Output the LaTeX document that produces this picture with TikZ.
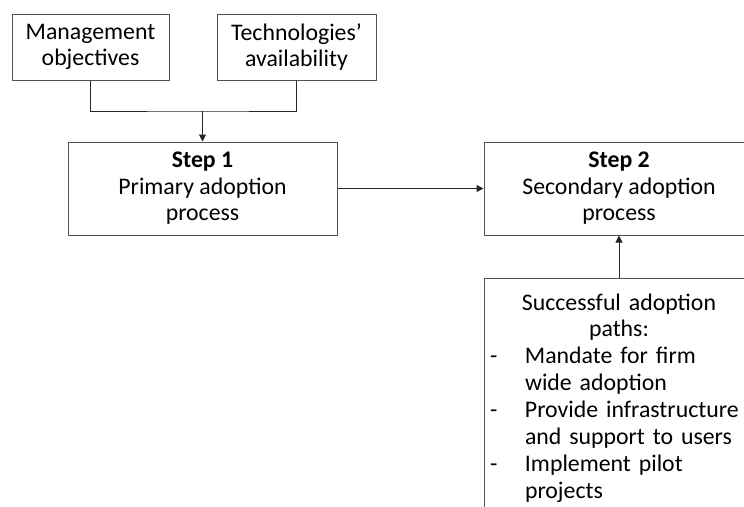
\documentclass[tikz,border=0pt]{standalone}
\usepackage{fontspec}
\setmainfont{Carlito}
\usetikzlibrary{arrows.meta}

\begin{document}
\begin{tikzpicture}[x=1pt,y=-1pt,
  every node/.style={font=\fontsize{23.8pt}{26.6pt}\selectfont},
  box/.style={draw=black!68, line width=1pt, fill=white, inner sep=0pt, align=center},
  link/.style={draw=black!85, line width=1pt},
  arr/.style={link, -{Triangle[width=7pt,length=7pt]}}
]
  % page frame; the right and lower boxes run past it
  \clip (0,0) rectangle (744,506);

  % inputs
  \node[box, minimum width=157pt, minimum height=66pt] (mgmt) at (90.5,47)
    {Management\\objectives};
  \node[box, minimum width=159pt, minimum height=66pt] (tech) at (296.5,47)
    {Technologies’\\availability};

  % the two steps
  \node[box, minimum width=269pt, minimum height=93pt] (step1) at (202.5,188.5)
    {\textbf{Step 1}\\Primary adoption\\process};
  \node[box, minimum width=270pt, minimum height=93pt] (step2) at (619,188.5)
    {\textbf{Step 2}\\Secondary adoption\\process};

  % adoption paths
  \node[box, anchor=north, text width=258pt, inner xsep=6pt, inner ysep=15pt,
        align=left, font=\fontsize{23.8pt}{26.9pt}\selectfont] (paths) at (619,278)
    {\makebox[258pt][c]{Successful adoption}\\
     \makebox[258pt][c]{paths:}\\
     \makebox[35pt][l]{-}Mandate for firm\\
     \hspace*{35pt}wide adoption\\
     \makebox[35pt][l]{-}Provide infrastructure\\
     \hspace*{35pt}and support to users\\
     \makebox[35pt][l]{-}Implement pilot\\
     \hspace*{35pt}projects};

  % connectors
  \coordinate (j) at (202.5,111);
  \draw[link] (mgmt.south) |- (j) -| (tech.south);
  \draw[arr] (j) -- (step1.north);
  \draw[arr] (step1.east) -- (step2.west);
  \draw[arr] (paths.north) -- (step2.south);
\end{tikzpicture}
\end{document}
